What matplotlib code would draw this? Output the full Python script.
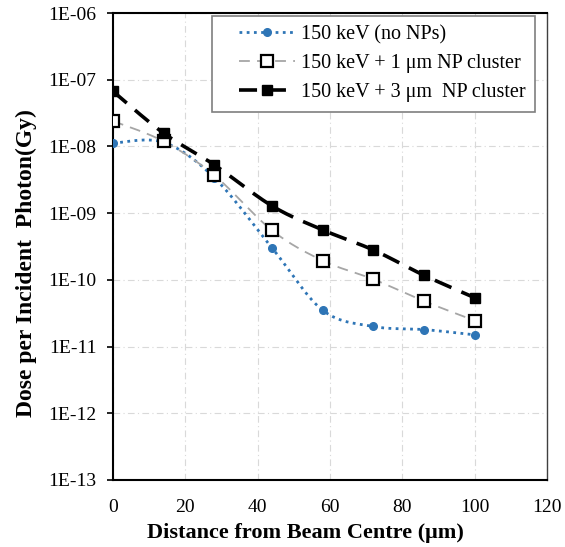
import numpy as np
import matplotlib
matplotlib.use("Agg")
import matplotlib.pyplot as plt
from matplotlib.lines import Line2D
from matplotlib.legend_handler import HandlerLine2D

distance = [0, 14, 28, 44, 58, 72, 86, 100]
dose_no_np = [1.12e-8, 1.15e-8, 3.4e-9, 3.0e-10, 3.5e-11, 2.0e-11, 1.8e-11, 1.5e-11]
dose_1um = [2.4e-8, 1.19e-8, 3.7e-9, 5.5e-10, 1.94e-10, 1.02e-10, 4.8e-11, 2.45e-11]
dose_3um = [6.7e-8, 1.58e-8, 5.3e-9, 1.28e-9, 5.6e-10, 2.8e-10, 1.17e-10, 5.4e-11]
labels = ["150 keV (no NPs)", "150 keV + 1 \u03bcm NP cluster", "150 keV + 3 \u03bcm  NP cluster"]
yticks = [1e-6, 1e-7, 1e-8, 1e-9, 1e-10, 1e-11, 1e-12, 1e-13]
ytick_labels = ["1E-06", "1E-07", "1E-08", "1E-09", "1E-10", "1E-11", "1E-12", "1E-13"]
xticks = [0, 20, 40, 60, 80, 100, 120]

plt.rcParams['font.family'] = ['Liberation Serif', 'DejaVu Serif']


def smooth(x, y, n=30):
    # Bezier smoothing in (x, log10 y) space, Excel-like
    x = np.asarray(x, float)
    ly = np.log10(np.asarray(y, float))
    pts = np.column_stack([x, ly])
    out = [pts[0]]
    t = np.linspace(0, 1, n)[1:]
    for i in range(len(pts) - 1):
        p0 = pts[i - 1] if i > 0 else pts[i]
        p1 = pts[i]
        p2 = pts[i + 1]
        p3 = pts[i + 2] if i + 2 < len(pts) else pts[i + 1]
        c1 = p1 + (p2 - p0) / 6.0
        c2 = p2 - (p3 - p1) / 6.0
        for tt in t:
            b = ((1 - tt) ** 3) * p1 + 3 * ((1 - tt) ** 2) * tt * c1 + 3 * (1 - tt) * tt ** 2 * c2 + tt ** 3 * p2
            out.append(b)
    out = np.array(out)
    return out[:, 0], 10 ** out[:, 1]


fig = plt.figure(figsize=(5.65, 5.47), dpi=100)
ax = fig.add_axes([113 / 565, 1 - 480 / 547, 434 / 565, 467 / 547])

blue = "#2E75B6"
gray = "#A6A6A6"

sx, sy = smooth(distance, dose_no_np)
ax.plot(sx, sy, color=blue, linestyle=(0, (1, 1.6)), linewidth=2.0, zorder=3)
ax.plot(distance, dose_no_np, linestyle='none', marker='o', markersize=5.5,
        color=blue, zorder=4)

sx, sy = smooth(distance, dose_1um)
ax.plot(sx, sy, color=gray, linestyle=(0, (6, 4)), linewidth=1.3, zorder=3)
ax.plot(distance, dose_1um, linestyle='none', marker='s', markersize=8.5,
        markerfacecolor='white', markeredgecolor='black', markeredgewidth=1.6, zorder=5)

sx, sy = smooth(distance, dose_3um)
ax.plot(sx, sy, color='black', linestyle=(0, (5, 3)), linewidth=2.6, zorder=3)
ax.plot(distance, dose_3um, linestyle='none', marker='s', markersize=6.5,
        color='black', zorder=6)

ax.set_yscale('log')
ax.set_ylim(1e-13, 1e-6)
ax.set_xlim(0, 120)
ax.set_yticks(yticks)
ax.set_yticklabels(ytick_labels)
ax.yaxis.set_minor_locator(matplotlib.ticker.NullLocator())
ax.set_xticks(xticks)
ax.tick_params(axis='y', direction='out', length=4, width=1.2, labelsize=14, pad=8)
ax.tick_params(axis='x', length=0, labelsize=14, pad=13.5)

ax.grid(True, color='#D9D9D9', linestyle=(0, (6, 3, 1, 3)), linewidth=0.8)
ax.set_axisbelow(True)

for s in ['left', 'bottom', 'top']:
    ax.spines[s].set_color('black')
    ax.spines[s].set_linewidth(1.5)
ax.spines['right'].set_color('#404040')
ax.spines['right'].set_linewidth(1.0)

ax.set_xlabel("Distance from Beam Centre (\u03bcm)", fontsize=16, fontweight='bold', va='center')
ax.set_ylabel("Dose per Incident  Photon(Gy)", fontsize=17, fontweight='bold', va='center')
ax.xaxis.set_label_coords((305 - 113) / 434, (480 - 533) / 467)
ax.yaxis.set_label_coords((26 - 113) / 434, (480 - 263) / 467)

handles = [
    Line2D([], [], color=blue, linestyle=(0, (1, 1.6)), linewidth=2.0, marker='o', markersize=5.5),
    Line2D([], [], color=gray, linestyle=(0, (6, 4)), linewidth=1.3, marker='s', markersize=8.5,
           markerfacecolor='white', markeredgecolor='black', markeredgewidth=1.6),
    Line2D([], [], color='black', linestyle=(0, (5, 3)), linewidth=2.6, marker='s', markersize=6.5),
]
leg = ax.legend(handles, labels, loc='upper right', bbox_to_anchor=(0.972, 0.994),
                fontsize=14.5, frameon=True, fancybox=False, edgecolor='#7F7F7F',
                framealpha=1, handlelength=3.7, handletextpad=0.3, borderpad=0.45,
                labelspacing=0.5, borderaxespad=0,
                handler_map={Line2D: HandlerLine2D(xpad=0.9)})
leg.get_frame().set_linewidth(1.2)

fig.savefig("out.png", dpi=100)
